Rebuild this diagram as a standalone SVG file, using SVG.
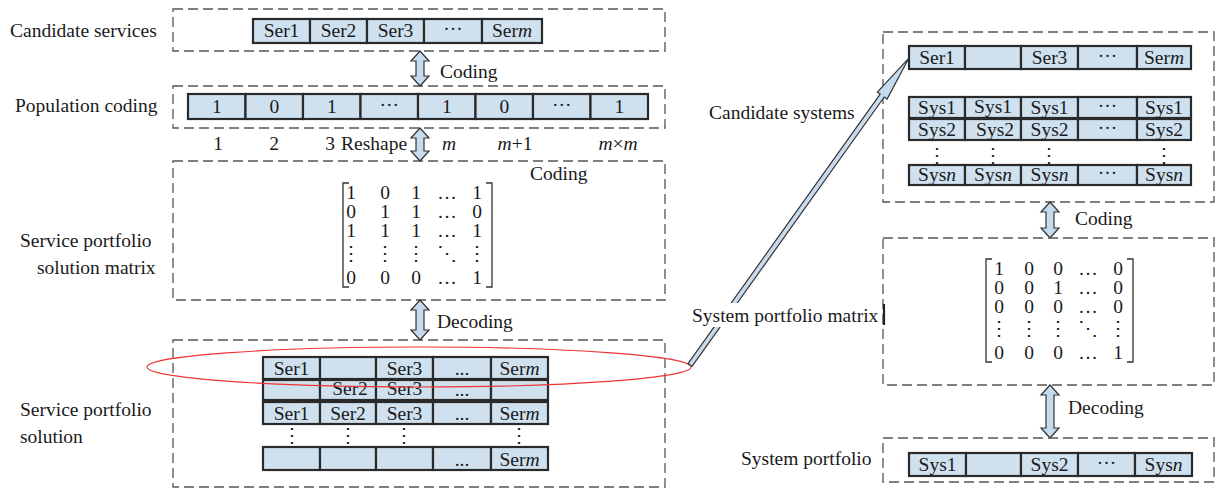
<svg xmlns="http://www.w3.org/2000/svg" width="1222" height="489" viewBox="0 0 1222 489">
  <style>
    .box { fill: none; stroke: #555; stroke-width: 1.3; stroke-dasharray: 10 5; }
    .cell { fill: #cfe0ef; stroke: #2a2a2a; stroke-width: 2.2; }
    .t { font-family: "Liberation Serif", "Times New Roman", "DejaVu Serif", serif; font-size: 19.5px; fill: #1a1a1a; }
    .c { text-anchor: middle; }
    .m { font-family: "Liberation Serif", "DejaVu Serif", serif; }
    .arw { fill: #c6dbee; stroke: #333; stroke-width: 1.2; stroke-linejoin: miter; }
    .br { fill: none; stroke: #333; stroke-width: 1.3; }
    .ring { fill: none; stroke: #e33; stroke-width: 1.1; }
  </style>

  <!-- candidate services -->
  <g id="candidate-services">
    <rect class="box" x="173" y="9" width="492" height="42"/>
    <text class="t" x="10" y="37">Candidate services</text>
    <rect class="cell" x="253" y="19" width="57" height="24"/>
    <rect class="cell" x="310" y="19" width="57" height="24"/>
    <rect class="cell" x="367" y="19" width="57" height="24"/>
    <rect class="cell" x="424" y="19" width="58" height="24"/>
    <rect class="cell" x="482" y="19" width="60" height="24"/>
    <text class="t c" x="281.5" y="37">Ser1</text>
    <text class="t c" x="338.5" y="37">Ser2</text>
    <text class="t c" x="395.5" y="37">Ser3</text>
    <text class="t c" x="453" y="35">···</text>
    <text class="t c" x="512" y="37">Ser<tspan font-style="italic">m</tspan></text>
  </g>

  <!-- population coding -->
  <g id="population-coding">
    <rect class="box" x="173" y="86" width="492" height="42"/>
    <text class="t" x="15" y="112">Population coding</text>
    <rect class="cell" x="188" y="94" width="57.5" height="25"/>
    <rect class="cell" x="245.5" y="94" width="57.5" height="25"/>
    <rect class="cell" x="303" y="94" width="57.5" height="25"/>
    <rect class="cell" x="360.5" y="94" width="57.5" height="25"/>
    <rect class="cell" x="418" y="94" width="57.5" height="25"/>
    <rect class="cell" x="475.5" y="94" width="57.5" height="25"/>
    <rect class="cell" x="533" y="94" width="57.5" height="25"/>
    <rect class="cell" x="590.5" y="94" width="57.5" height="25"/>
    <text class="t c" x="216.75" y="113">1</text>
    <text class="t c" x="274.25" y="113">0</text>
    <text class="t c" x="331.75" y="113">1</text>
    <text class="t c" x="389.25" y="111">···</text>
    <text class="t c" x="446.75" y="113">1</text>
    <text class="t c" x="504.25" y="113">0</text>
    <text class="t c" x="561.75" y="111">···</text>
    <text class="t c" x="619.25" y="113">1</text>
    <text class="t c" x="218" y="150">1</text>
    <text class="t c" x="274" y="150">2</text>
    <text class="t c" x="330" y="150">3</text>
    <text class="t c" x="449" y="150" font-style="italic">m</text>
    <text class="t c" x="515" y="150"><tspan font-style="italic">m</tspan>+1</text>
    <text class="t c" x="618" y="150"><tspan font-style="italic">m</tspan>×<tspan font-style="italic">m</tspan></text>
  </g>

  <!-- service portfolio solution matrix -->
  <g id="service-matrix">
    <rect class="box" x="173" y="161" width="492" height="139"/>
    <text class="t" x="20" y="247">Service portfolio</text>
    <text class="t" x="37" y="274">solution matrix</text>
    <path class="br" d="M349,183 H343 V287 H349 M486,183 H492 V287 H486"/>
    <g class="t c m">
      <text x="351" y="199">1</text><text x="385" y="199">0</text><text x="416" y="199">1</text><text x="447" y="199">…</text><text x="477" y="199">1</text>
      <text x="351" y="218">0</text><text x="385" y="218">1</text><text x="416" y="218">1</text><text x="447" y="218">…</text><text x="477" y="218">0</text>
      <text x="351" y="237">1</text><text x="385" y="237">1</text><text x="416" y="237">1</text><text x="447" y="237">…</text><text x="477" y="237">1</text>
      <text x="351" y="260">⋮</text><text x="385" y="260">⋮</text><text x="416" y="260">⋮</text><text x="447" y="260">⋱</text><text x="477" y="260">⋮</text>
      <text x="351" y="284">0</text><text x="385" y="284">0</text><text x="416" y="284">0</text><text x="447" y="284">…</text><text x="477" y="284">1</text>
    </g>
  </g>

  <!-- service portfolio solution -->
  <g id="service-solution">
    <rect class="box" x="173" y="340" width="492" height="147"/>
    <text class="t" x="20" y="416">Service portfolio</text>
    <text class="t" x="20" y="443">solution</text>
    <g>
      <rect class="cell" x="263" y="357" width="57" height="22"/>
      <rect class="cell" x="320" y="357" width="56" height="22"/>
      <rect class="cell" x="376" y="357" width="57" height="22"/>
      <rect class="cell" x="433" y="357" width="58" height="22"/>
      <rect class="cell" x="491" y="357" width="57" height="22"/>
      <rect class="cell" x="263" y="380" width="57" height="20"/>
      <rect class="cell" x="320" y="380" width="56" height="20"/>
      <rect class="cell" x="376" y="380" width="57" height="20"/>
      <rect class="cell" x="433" y="380" width="58" height="20"/>
      <rect class="cell" x="491" y="380" width="57" height="20"/>
      <rect class="cell" x="263" y="402" width="57" height="22"/>
      <rect class="cell" x="320" y="402" width="56" height="22"/>
      <rect class="cell" x="376" y="402" width="57" height="22"/>
      <rect class="cell" x="433" y="402" width="58" height="22"/>
      <rect class="cell" x="491" y="402" width="57" height="22"/>
      <rect class="cell" x="263" y="447" width="57" height="23"/>
      <rect class="cell" x="320" y="447" width="56" height="23"/>
      <rect class="cell" x="376" y="447" width="57" height="23"/>
      <rect class="cell" x="433" y="447" width="58" height="23"/>
      <rect class="cell" x="491" y="447" width="57" height="23"/>
    </g>
    <text class="t c" x="291.5" y="375">Ser1</text>
    <text class="t c" x="404.5" y="375">Ser3</text>
    <text class="t c" x="462" y="375">...</text>
    <text class="t c" x="519.5" y="375">Ser<tspan font-style="italic">m</tspan></text>
    <text class="t c" x="350" y="395">Ser2</text>
    <text class="t c" x="404.5" y="395">Ser3</text>
    <text class="t c" x="462" y="396">...</text>
    <text class="t c" x="291.5" y="420">Ser1</text>
    <text class="t c" x="348" y="420">Ser2</text>
    <text class="t c" x="404.5" y="420">Ser3</text>
    <text class="t c" x="462" y="420">...</text>
    <text class="t c" x="519.5" y="420">Ser<tspan font-style="italic">m</tspan></text>
    <g class="t c m">
      <text x="292" y="442">⋮</text><text x="348" y="442">⋮</text><text x="404" y="442">⋮</text><text x="519" y="442">⋮</text>
    </g>
    <text class="t c" x="462" y="466">...</text>
    <text class="t c" x="519.5" y="466">Ser<tspan font-style="italic">m</tspan></text>
    <ellipse class="ring" cx="419" cy="367" rx="272" ry="20"/>
  </g>

  <!-- candidate systems -->
  <g id="candidate-systems">
    <rect class="box" x="883" y="32" width="331" height="170"/>
    <text class="t" x="709" y="119">Candidate systems</text>
    <rect class="cell" x="909" y="46" width="56" height="23"/>
    <rect class="cell" x="965" y="46" width="56" height="23"/>
    <rect class="cell" x="1021" y="46" width="57" height="23"/>
    <rect class="cell" x="1078" y="46" width="59" height="23"/>
    <rect class="cell" x="1137" y="46" width="54" height="23"/>
    <text class="t c" x="937" y="64">Ser1</text>
    <text class="t c" x="1049.5" y="64">Ser3</text>
    <text class="t c" x="1107.5" y="62">···</text>
    <text class="t c" x="1164" y="64">Ser<tspan font-style="italic">m</tspan></text>

    <rect class="cell" x="909" y="97" width="56" height="21"/>
    <rect class="cell" x="965" y="97" width="56" height="21"/>
    <rect class="cell" x="1021" y="97" width="57" height="21"/>
    <rect class="cell" x="1078" y="97" width="59" height="21"/>
    <rect class="cell" x="1137" y="97" width="54" height="21"/>
    <rect class="cell" x="909" y="119" width="56" height="21"/>
    <rect class="cell" x="965" y="119" width="56" height="21"/>
    <rect class="cell" x="1021" y="119" width="57" height="21"/>
    <rect class="cell" x="1078" y="119" width="59" height="21"/>
    <rect class="cell" x="1137" y="119" width="54" height="21"/>
    <rect class="cell" x="909" y="165" width="56" height="20"/>
    <rect class="cell" x="965" y="165" width="56" height="20"/>
    <rect class="cell" x="1021" y="165" width="57" height="20"/>
    <rect class="cell" x="1078" y="165" width="59" height="20"/>
    <rect class="cell" x="1137" y="165" width="54" height="20"/>
    <text class="t c" x="937" y="114">Sys1</text>
    <text class="t c" x="993" y="113">Sys1</text>
    <text class="t c" x="1049.5" y="114">Sys1</text>
    <text class="t c" x="1107.5" y="112">···</text>
    <text class="t c" x="1164" y="114">Sys1</text>
    <text class="t c" x="937" y="136">Sys2</text>
    <text class="t c" x="995" y="136">Sys2</text>
    <text class="t c" x="1049.5" y="136">Sys2</text>
    <text class="t c" x="1107.5" y="134">···</text>
    <text class="t c" x="1164" y="136">Sys2</text>
    <g class="t c m">
      <text x="937" y="162">⋮</text><text x="993" y="162">⋮</text><text x="1049" y="162">⋮</text><text x="1164" y="162">⋮</text>
    </g>
    <text class="t c" x="937" y="181">Sys<tspan font-style="italic">n</tspan></text>
    <text class="t c" x="993" y="181">Sys<tspan font-style="italic">n</tspan></text>
    <text class="t c" x="1049.5" y="181">Sys<tspan font-style="italic">n</tspan></text>
    <text class="t c" x="1107.5" y="179">···</text>
    <text class="t c" x="1164" y="181">Sys<tspan font-style="italic">n</tspan></text>
  </g>

  <!-- connectors -->
  <g id="connectors">
    <path class="arw" d="M420,51 L429,61 L424,61 L424,76 L429,76 L420,86 L411,76 L416,76 L416,61 L411,61 Z"/>
    <text class="t" x="440" y="78">Coding</text>
    <path class="arw" d="M420,128 L429,138 L424,138 L424,151 L429,151 L420,161 L411,151 L416,151 L416,138 L411,138 Z"/>
    <text class="t" x="341" y="150">Reshape</text>
    <text class="t" x="530" y="180">Coding</text>
    <path class="arw" d="M420,300 L429,310 L424,310 L424,330 L429,330 L420,340 L411,330 L416,330 L416,310 L411,310 Z"/>
    <text class="t" x="437" y="328">Decoding</text>
    <path class="arw" d="M1050,202 L1059,212 L1054,212 L1054,228 L1059,228 L1050,238 L1041,228 L1046,228 L1046,212 L1041,212 Z"/>
    <text class="t" x="1075" y="225">Coding</text>
    <path class="arw" d="M1050,385 L1059,395 L1054,395 L1054,428 L1059,428 L1050,438 L1041,428 L1046,428 L1046,395 L1041,395 Z"/>
    <text class="t" x="1068" y="414">Decoding</text>
    <polygon class="arw" transform="translate(690,365) rotate(-54.5)" points="0,-2.5 331,-2.5 331,-6 377,0 331,6 331,2.5 0,2.5"/>
  </g>

  <!-- system portfolio matrix (label sits on a white plate over the long arrow) -->
  <g id="system-matrix">
    <rect class="box" x="883" y="238" width="331" height="147"/>
    <rect x="690" y="303" width="192" height="24" fill="#fff"/>
    <line x1="884" y1="304" x2="884" y2="325" stroke="#222" stroke-width="2.2"/>
    <text class="t" x="692" y="322">System portfolio matrix</text>
    <path class="br" d="M992,259 H986 V362 H992 M1127,259 H1133 V362 H1127"/>
    <g class="t c m">
      <text x="999" y="275">1</text><text x="1029" y="275">0</text><text x="1058" y="275">0</text><text x="1088" y="275">…</text><text x="1118" y="275">0</text>
      <text x="999" y="294">0</text><text x="1029" y="294">0</text><text x="1058" y="294">1</text><text x="1088" y="294">…</text><text x="1118" y="294">0</text>
      <text x="999" y="313">0</text><text x="1029" y="313">0</text><text x="1058" y="313">0</text><text x="1088" y="313">…</text><text x="1118" y="313">0</text>
      <text x="999" y="335">⋮</text><text x="1029" y="335">⋮</text><text x="1058" y="335">⋮</text><text x="1088" y="335">⋱</text><text x="1118" y="335">⋮</text>
      <text x="999" y="359">0</text><text x="1029" y="359">0</text><text x="1058" y="359">0</text><text x="1088" y="359">…</text><text x="1118" y="359">1</text>
    </g>
  </g>

  <!-- system portfolio -->
  <g id="system-portfolio">
    <rect class="box" x="883" y="438" width="331" height="44"/>
    <text class="t" x="741" y="465">System portfolio</text>
    <rect class="cell" x="909" y="453" width="57" height="23"/>
    <rect class="cell" x="966" y="453" width="55" height="23"/>
    <rect class="cell" x="1021" y="453" width="57" height="23"/>
    <rect class="cell" x="1078" y="453" width="57" height="23"/>
    <rect class="cell" x="1135" y="453" width="57" height="23"/>
    <text class="t c" x="937.5" y="471">Sys1</text>
    <text class="t c" x="1049.5" y="471">Sys2</text>
    <text class="t c" x="1106.5" y="469">···</text>
    <text class="t c" x="1163.5" y="471">Sys<tspan font-style="italic">n</tspan></text>
  </g>
</svg>
